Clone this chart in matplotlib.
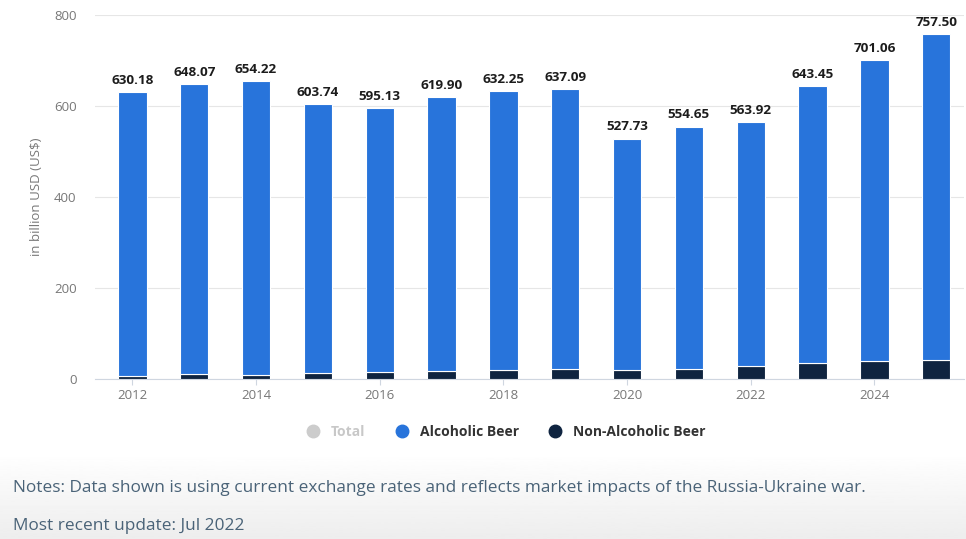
import numpy as np
import matplotlib.pyplot as plt
from matplotlib.lines import Line2D

years = list(range(2012, 2026))
total = [630.18, 648.07, 654.22, 603.74, 595.13, 619.90, 632.25, 637.09,
         527.73, 554.65, 563.92, 643.45, 701.06, 757.50]
non_alcoholic = [7, 10, 9.5, 12.5, 14.5, 17, 20, 22, 20, 22, 29, 34, 39, 42]
alcoholic = [t - n for t, n in zip(total, non_alcoholic)]

blue = '#2874db'
navy = '#0f2440'

plt.rcParams['font.family'] = ['Open Sans', 'DejaVu Sans']

fig = plt.figure(figsize=(9.66, 5.39), dpi=100)

# light gradient behind the notes
bg = fig.add_axes([0, 0, 1, 0.16], zorder=-5)
grad = np.linspace(0.93, 1.0, 100).reshape(-1, 1)
bg.imshow(grad, aspect='auto', cmap='gray', vmin=0, vmax=1, extent=[0, 1, 0, 1], origin='lower')
bg.axis('off')

ax = fig.add_axes([0.098, 0.297, 0.9, 0.675])
ax.bar(years, non_alcoholic, width=0.46, color=navy, edgecolor='white', linewidth=0.8, zorder=3)
ax.bar(years, alcoholic, bottom=non_alcoholic, width=0.46, color=blue,
       edgecolor='white', linewidth=0.8, zorder=3)

for x, t in zip(years, total):
    ax.text(x, t + 12, f'{t:.2f}', ha='center', va='bottom', fontsize=9.7,
            fontweight='bold', color='#1c1c1c', clip_on=False)

ax.set_ylim(0, 800)
ax.set_xlim(2011.39, 2025.45)
ax.set_yticks([0, 200, 400, 600, 800])
ax.set_xticks([2012, 2014, 2016, 2018, 2020, 2022, 2024])
ax.grid(axis='y', color='#e6e6e6', linewidth=0.8, zorder=0)
for s in ax.spines.values():
    s.set_visible(False)
ax.spines['bottom'].set_visible(True)
ax.spines['bottom'].set_color('#cfd6e0')
ax.tick_params(axis='y', length=0, labelsize=9.5, colors='#777777', pad=13)
ax.tick_params(axis='x', length=4, color='#cfd6e0', labelsize=9.5, colors='#777777')
ax.set_ylabel('in billion USD (US$)', fontsize=9.5, color='#777777', labelpad=8)

handles = [
    Line2D([], [], marker='o', linestyle='', markersize=9, color='#cccccc'),
    Line2D([], [], marker='o', linestyle='', markersize=9, color=blue),
    Line2D([], [], marker='o', linestyle='', markersize=9, color=navy),
]
leg = fig.legend(handles, ['Total', 'Alcoholic Beer', 'Non-Alcoholic Beer'],
                 loc='center', bbox_to_anchor=(0.52, 0.198), ncol=3, frameon=False,
                 fontsize=10, handletextpad=0.3, columnspacing=1.6)
for txt, c in zip(leg.get_texts(), ['#c8c8c8', '#333333', '#333333']):
    txt.set_color(c)
    txt.set_fontweight('bold')

fig.text(0.013, 0.095, 'Notes: Data shown is using current exchange rates and reflects market impacts of the Russia-Ukraine war.',
         fontsize=12.4, color='#4a6378', va='center')
fig.text(0.013, 0.024, 'Most recent update: Jul 2022',
         fontsize=12.4, color='#4a6378', va='center')

fig.savefig('out.png', dpi=100)
